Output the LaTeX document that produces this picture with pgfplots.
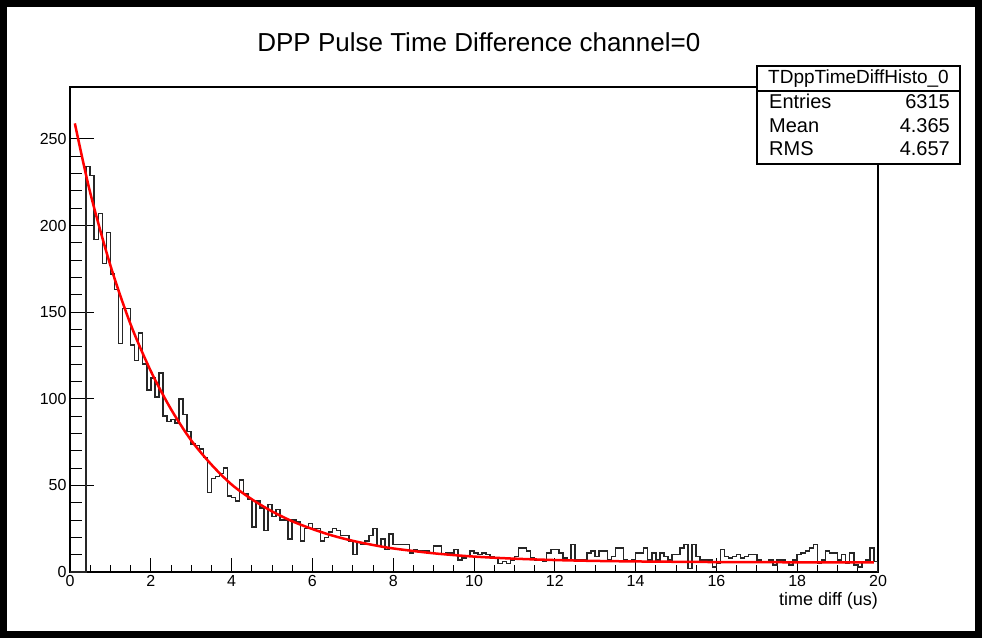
\documentclass[border=0pt]{standalone}
\usepackage{fontspec}
\setmainfont{Liberation Sans}
\usepackage{pgfplots}
\pgfplotsset{compat=1.18}
\usepackage{pgfplotstable}

% bin contents, left edges, width 0.1
\pgfplotstableread{
x y
0.0 0
0.4 234
0.5 229
0.6 192
0.7 207
0.8 178
0.9 196
1.0 172
1.1 163
1.2 132
1.3 152
1.4 152
1.5 131
1.6 122
1.7 138
1.8 120
1.9 105
2.0 112
2.1 101
2.2 115
2.3 90
2.4 87
2.5 88
2.6 86
2.7 100
2.8 91
2.9 81
3.0 74
3.1 73
3.2 71
3.3 66
3.4 46
3.5 54
3.6 55
3.7 57
3.8 60
3.9 44
4.0 43
4.1 41
4.2 53
4.3 45
4.4 42
4.5 26
4.6 41
4.7 37
4.8 24
4.9 39
5.0 32
5.1 36
5.2 30
5.3 30
5.4 19
5.5 30
5.6 29
5.7 18
5.8 25
5.9 28
6.0 25
6.1 25
6.2 18
6.3 20
6.4 23
6.5 25
6.6 24
6.7 21
6.8 21
6.9 18
7.0 10
7.1 17
7.2 16
7.3 18
7.4 21
7.5 25
7.6 15
7.7 19
7.8 13
7.9 22
8.0 16
8.1 16
8.2 16
8.3 16
8.4 11
8.5 13
8.6 12
8.7 12
8.8 12
8.9 11
9.0 15
9.1 15
9.2 10
9.3 11
9.4 11
9.5 13
9.6 7
9.7 8
9.8 9
9.9 12
10.0 11
10.1 10
10.2 11
10.3 10
10.4 9
10.5 8
10.6 5
10.7 6
10.8 5
10.9 7
11.0 9
11.1 14
11.2 14
11.3 12
11.4 8
11.5 7
11.6 7
11.7 6
11.8 11
11.9 13
12.0 13
12.1 11
12.2 8
12.3 7
12.4 16
12.5 7
12.6 7
12.7 7
12.8 11
12.9 12
13.0 9
13.1 12
13.2 12
13.3 7
13.4 9
13.5 14
13.6 14
13.7 7
13.8 6
13.9 7
14.0 11
14.1 11
14.2 14
14.3 7
14.4 11
14.5 7
14.6 11
14.7 9
14.8 7
14.9 10
15.0 10
15.1 14
15.2 16
15.3 2
15.4 16
15.5 9
15.6 7
15.7 7
15.8 7
15.9 3
16.0 5
16.1 13
16.2 9
16.3 8
16.4 9
16.5 10
16.6 8
16.7 9
16.8 10
16.9 10
17.0 7
17.1 6
17.2 6
17.3 7
17.4 4
17.5 7
17.6 7
17.7 6
17.8 4
17.9 7
18.0 10
18.1 11
18.2 12
18.3 14
18.4 16
18.5 5
18.6 7
18.7 12
18.8 11
18.9 11
19.0 7
19.1 10
19.2 5
19.3 11
19.4 4
19.5 3
19.6 6
19.7 7
19.8 14
19.9 6
20.0 6
20.0 0
}\histo

% fitted curve
\pgfplotstableread{
x y
0.12 259
0.5 219
1.0 177
1.5 143
2.0 116
2.5 94
3.0 76
3.5 62
4.0 50.5
4.5 42
5.0 35
5.5 29.3
6.0 24.8
6.5 21
7.0 18
7.5 15.6
8.0 13.6
9.0 10.8
10 8.9
11 7.7
12 6.9
13 6.4
14 6.1
15 5.9
16 5.75
17 5.7
18 5.6
19 5.6
19.9 5.5
}\fit

\pgfplotsset{
    rootframe/.style={
        at={(0pt,0pt)}, anchor=south west,
        scale only axis, width=808pt, height=485pt,
        xmin=0, xmax=20, ymin=0, ymax=280,
        tick align=inside, xtick pos=bottom, ytick pos=left,
        axis line style={line width=1.3pt},
        every tick/.style={black, line width=1pt},
        /pgf/number format/assume math mode=true,
        ticklabel style={font=\fontsize{16}{18}\selectfont},
    },
}

\begin{document}
\begin{tikzpicture}
\useasboundingbox (-70pt,-66pt) rectangle (912pt,572pt);
\fill[white] (-70pt,-66pt) rectangle (912pt,572pt);
% y ticks (long, as ROOT scales them with the frame width)
\begin{axis}[rootframe,
    xtick=\empty,
    ytick={0,50,...,250}, minor y tick num=4,
    major tick length=24pt, minor tick length=12pt,
]
\end{axis}
% x ticks, data
\begin{axis}[rootframe,
    ytick=\empty,
    xtick={0,2,...,20}, minor x tick num=3,
    major tick length=14pt, minor tick length=7pt,
    title={DPP Pulse Time Difference channel=0},
    title style={at={(axis description cs:0.506,1)}, anchor=center, yshift=39pt,
        font=\fontsize{26}{30}\selectfont},
    xlabel={time diff (us)},
    xlabel style={at={(axis description cs:1,0)}, anchor=east, yshift=-29pt,
        inner sep=0pt, font=\fontsize{18}{20}\selectfont},
]
\addplot[const plot mark left, black!85, line width=1.5pt] table[x=x, y=y] {\histo};
\addplot[smooth, red, line width=2.5pt] table[x=x, y=y] {\fit};
\end{axis}
% stats box
\draw[line width=1.3pt, fill=white] (687pt,408pt) rectangle (890pt,506pt);
\draw[line width=1.3pt] (687pt,481pt) -- (890pt,481pt);
\node[font=\fontsize{19}{22}\selectfont] at (788.5pt,493.5pt) {TDppTimeDiffHisto\_0};
\begin{scope}[every node/.style={font=\fontsize{20}{22}\selectfont, text height=14pt, text depth=3pt, inner sep=0pt}]
\node[anchor=west] at (699pt,469pt) {Entries};
\node[anchor=west] at (699pt,445pt) {Mean};
\node[anchor=west] at (699pt,422pt) {RMS};
\node[anchor=east] at (880pt,469pt) {6315};
\node[anchor=east] at (880pt,445pt) {4.365};
\node[anchor=east] at (880pt,422pt) {4.657};
\end{scope}
% outer frame
\draw[line width=7pt] (-66.5pt,-62.5pt) rectangle (908.5pt,568.5pt);
\end{tikzpicture}
\end{document}
